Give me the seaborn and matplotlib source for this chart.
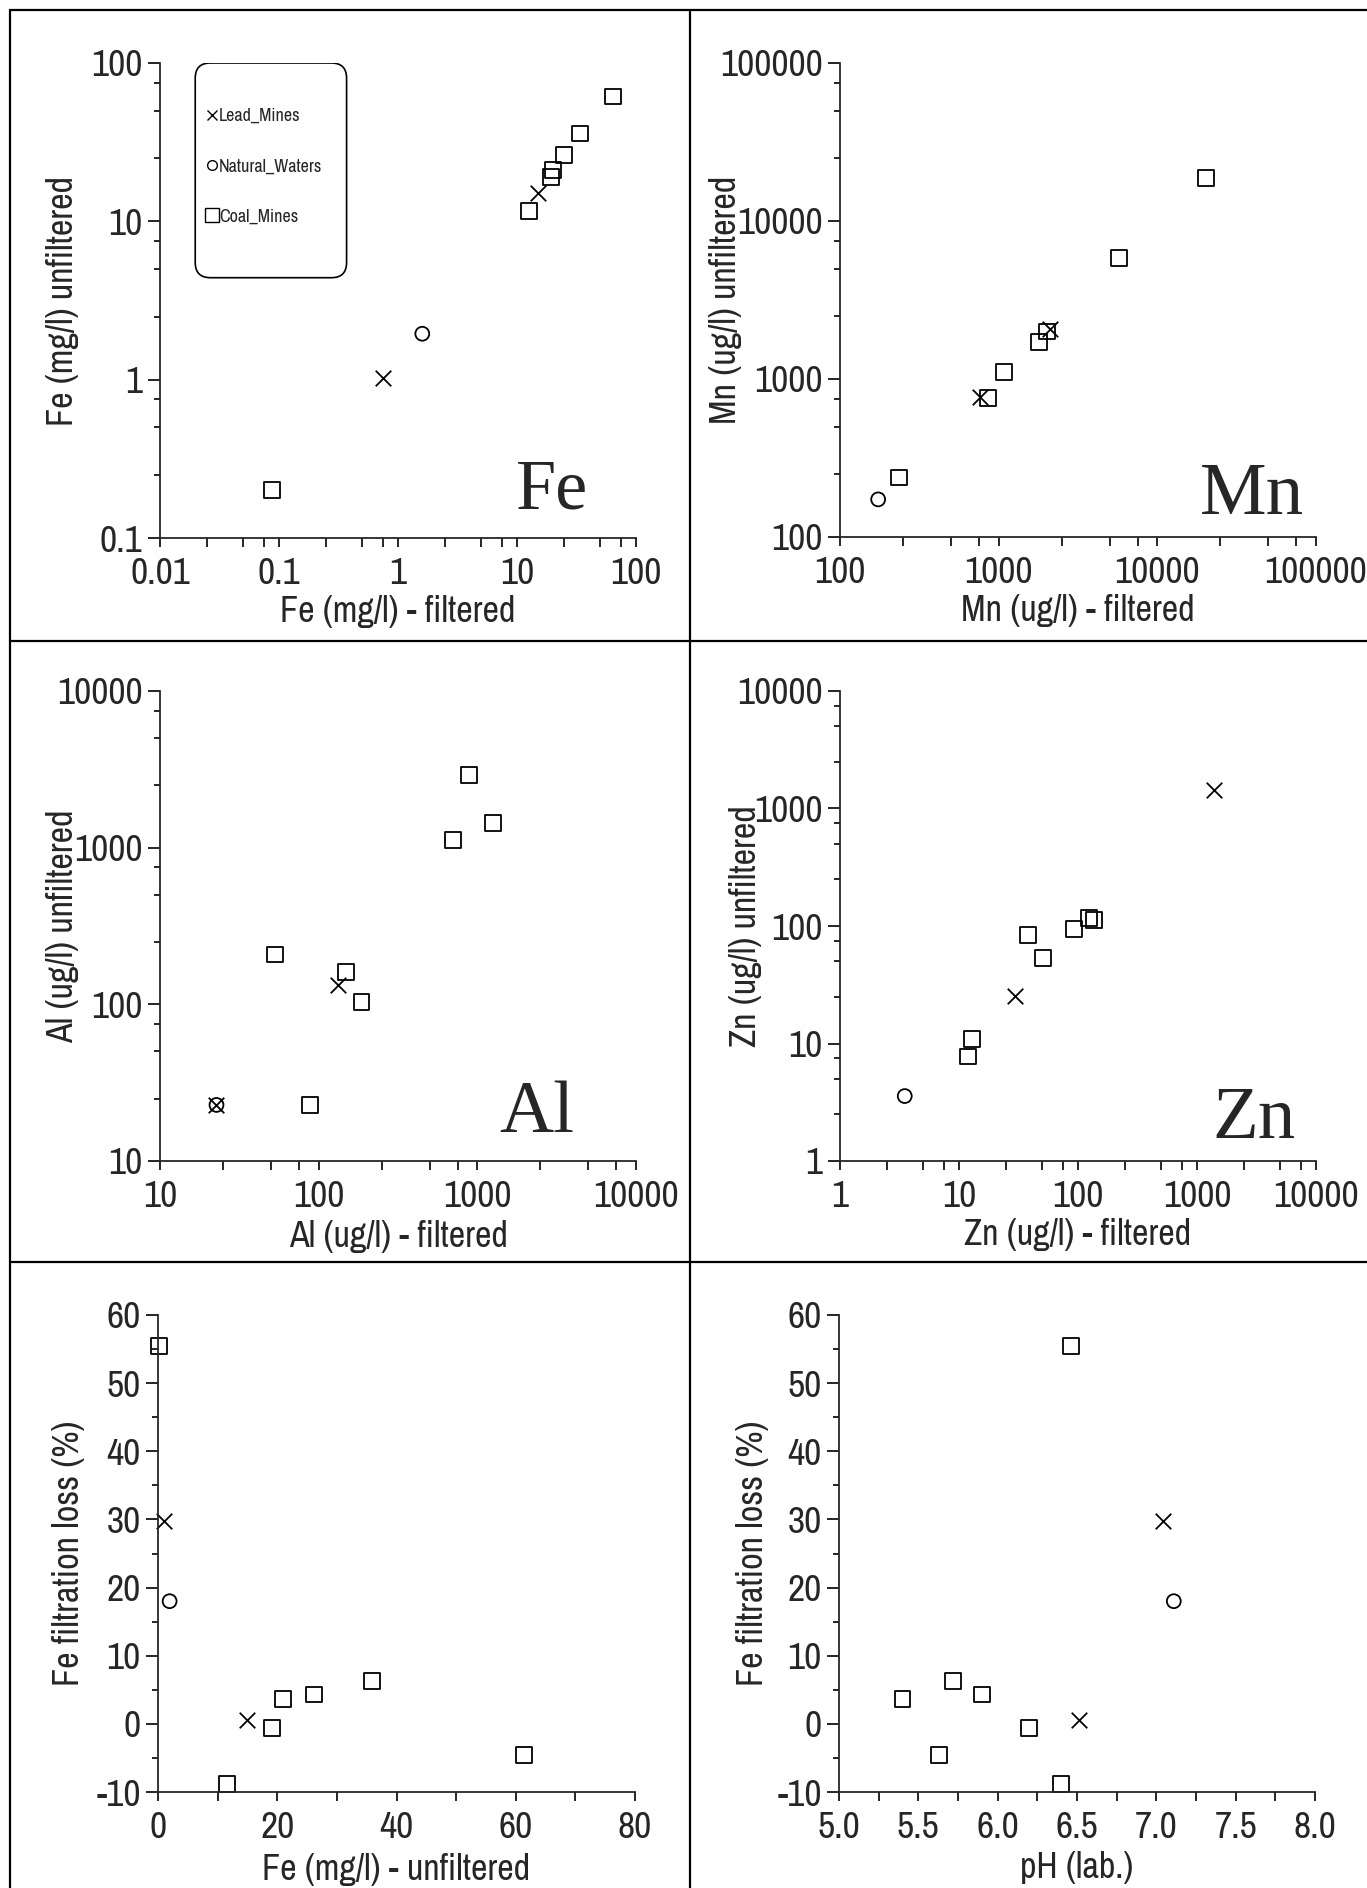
import matplotlib
matplotlib.use("Agg")
import matplotlib.pyplot as plt
import seaborn as sns
import pandas as pd
from matplotlib import ticker, font_manager
from matplotlib.lines import Line2D
from matplotlib.patches import FancyBboxPatch


# sampling points: 2 lead mines, 1 natural water, 7 coal mines
site_type = ["Lead_Mines"] * 2 + ["Natural_Waters"] + ["Coal_Mines"] * 7

fe_filtered = [0.75, 15.1, 1.6, 0.087, 12.6, 19.2, 20.2, 25.0, 33.6, 64.0]
fe_unfiltered = [1.03, 15.0, 1.95, 0.2, 11.6, 19.1, 21.0, 26.1, 35.9, 61.4]

mn_filtered = [764, 2115, 174, 234, 855, 1084, 1803, 2023, 5740, 20200]
mn_unfiltered = [768, 2084, 173, 238, 760, 1104, 1714, 2000, 5830, 18800]

al_filtered = [22.7, 132, 22.7, 53.3, 87.9, 148, 186, 702, 887, 1259]
al_unfiltered = [22.8, 133, 22.8, 208, 22.8, 161, 103, 1122, 2911, 1435]

zn_filtered = [29.7, 1397, 3.5, 11.9, 12.9, 38.3, 51, 93.3, 124, 135.6]
zn_unfiltered = [25.4, 1430, 3.57, 7.75, 10.9, 83.5, 53.3, 94.2, 117, 113]

fe_loss = [29.8, 0.6, 18.0, 55.5, -8.8, -0.6, 3.7, 4.3, 6.3, -4.6]
ph_lab = [7.04, 6.51, 7.11, 6.46, 6.40, 6.20, 5.40, 5.90, 5.72, 5.63]

groups = ["Lead_Mines", "Natural_Waters", "Coal_Mines"]
group_marker = {"Lead_Mines": "x", "Natural_Waters": "o", "Coal_Mines": "s"}
group_size = {"Lead_Mines": 125, "Natural_Waters": 100, "Coal_Mines": 130}


sns.set_style("ticks")
# narrow sans (like Helvetica Narrow) if there is one, else a plain one
names = {f.name for f in font_manager.fontManager.ttflist}
sans = "Liberation Sans"
for cand in ["Archivo Narrow", "Liberation Sans Narrow"]:
    if cand in names:
        sans = cand
        break
plt.rcParams["font.family"] = [sans, "DejaVu Sans"]
plt.rcParams["axes.unicode_minus"] = False

W, H = 1367, 1888
fig = plt.figure(figsize=(W / 100, H / 100), dpi=100)
fig.patch.set_facecolor("white")


def px_axes(x0, y0, x1, y1):
    return fig.add_axes([x0 / W, 1 - y1 / H, (x1 - x0) / W, (y1 - y0) / H])


def fig_line(x0, y0, x1, y1):
    fig.add_artist(Line2D([x0 / W, x1 / W], [1 - y0 / H, 1 - y1 / H],
                          transform=fig.transFigure, color="black", lw=1.6))


def draw_points(ax, x, y):
    df = pd.DataFrame({"x": x, "y": y, "site": site_type})
    for g in groups:
        sub = df[df.site == g]
        if g == "Lead_Mines":
            sns.scatterplot(data=sub, x="x", y="y", marker="x", s=group_size[g],
                            color="black", linewidth=1.3, ax=ax, clip_on=False)
        else:
            sns.scatterplot(data=sub, x="x", y="y", marker=group_marker[g],
                            s=group_size[g], facecolor="none", edgecolor="black",
                            linewidth=1.3, ax=ax, clip_on=False)


def style_axes(ax, xlabel, ylabel, ylab_x, xlab_y):
    sns.despine(ax=ax)
    for side in ["left", "bottom"]:
        ax.spines[side].set_linewidth(1.3)
    ax.set_xlabel(xlabel, fontsize=26)
    ax.set_ylabel(ylabel, fontsize=26)
    ax.yaxis.set_label_coords(ylab_x, 0.5)
    ax.xaxis.set_label_coords(0.5, xlab_y)
    ax.tick_params(axis="both", which="both", direction="out", width=1.2,
                   labelsize=27, color="black")
    ax.tick_params(axis="y", which="major", length=8.5, pad=4)
    ax.tick_params(axis="y", which="minor", length=4.5)
    ax.tick_params(axis="x", which="major", length=6.5, pad=7)
    ax.tick_params(axis="x", which="minor", length=6.5)
    ax.set_facecolor("white")


def log_axes(ax, xlim, ylim):
    ax.set_xscale("log")
    ax.set_yscale("log")
    ax.set_xlim(*xlim)
    ax.set_ylim(*ylim)
    for axis in [ax.xaxis, ax.yaxis]:
        axis.set_major_locator(ticker.LogLocator(base=10, subs=(1.0,), numticks=12))
        axis.set_minor_locator(ticker.LogLocator(base=10, subs=(2.5, 5.0, 7.5), numticks=12))
        axis.set_major_formatter(ticker.FuncFormatter(lambda v, p: f"{v:g}"))
        axis.set_minor_formatter(ticker.NullFormatter())


def element_tag(ax, text, x, y, size):
    ax.text(x, y, text, transform=ax.transAxes, ha="right", va="baseline",
            fontsize=size, family="Liberation Serif")


# Fe filtered vs unfiltered
ax1 = px_axes(160, 63, 636, 538)
draw_points(ax1, fe_filtered, fe_unfiltered)
log_axes(ax1, (0.01, 100), (0.1, 100))
style_axes(ax1, "Fe (mg/l) - filtered", "Fe (mg/l) unfiltered", -0.171, -0.12)
element_tag(ax1, "Fe", 0.90, 0.063, 52)

ax1.add_patch(FancyBboxPatch((0.074, 0.548), 0.318, 0.452,
                             boxstyle="round,pad=0,rounding_size=0.032",
                             transform=ax1.transAxes, facecolor="white",
                             edgecolor="black", lw=1.2, zorder=3))
handles = [
    Line2D([], [], ls="none", marker="x", color="black", markersize=7, mew=1.0),
    Line2D([], [], ls="none", marker="o", mfc="none", mec="black", markersize=7, mew=1.0),
    Line2D([], [], ls="none", marker="s", mfc="none", mec="black", markersize=10, mew=1.0),
]
leg = ax1.legend(handles, groups, loc="upper left", bbox_to_anchor=(0.095, 0.905),
                 frameon=False, fontsize=13, handlelength=0.7, handletextpad=0.05,
                 labelspacing=1.9, borderpad=0, borderaxespad=0)
leg.set_zorder(4)

# Mn
ax2 = px_axes(840, 63, 1316, 537)
draw_points(ax2, mn_filtered, mn_unfiltered)
log_axes(ax2, (100, 100000), (100, 100000))
style_axes(ax2, "Mn (ug/l) - filtered", "Mn (ug/l) unfiltered", -0.205, -0.12)
element_tag(ax2, "Mn", 0.975, 0.049, 54)

# Al
ax3 = px_axes(160, 691, 636, 1161)
draw_points(ax3, al_filtered, al_unfiltered)
log_axes(ax3, (10, 10000), (10, 10000))
style_axes(ax3, "Al (ug/l) - filtered", "Al (ug/l) unfiltered", -0.171, -0.126)
element_tag(ax3, "Al", 0.87, 0.062, 54)

# Zn
ax4 = px_axes(840, 691, 1316, 1161)
draw_points(ax4, zn_filtered, zn_unfiltered)
log_axes(ax4, (1, 10000), (1, 10000))
style_axes(ax4, "Zn (ug/l) - filtered", "Zn (ug/l) unfiltered", -0.163, -0.121)
element_tag(ax4, "Zn", 0.958, 0.049, 54)

# Fe filtration loss vs unfiltered Fe
ax5 = px_axes(158, 1315, 635, 1792)
draw_points(ax5, fe_unfiltered, fe_loss)
ax5.set_xlim(0, 80)
ax5.set_ylim(-10, 60)
ax5.xaxis.set_major_locator(ticker.MultipleLocator(20))
ax5.xaxis.set_minor_locator(ticker.MultipleLocator(10))
ax5.yaxis.set_major_locator(ticker.MultipleLocator(10))
ax5.yaxis.set_minor_locator(ticker.MultipleLocator(5))
style_axes(ax5, "Fe (mg/l) - unfiltered", "Fe filtration loss (%)", -0.152, -0.128)

# Fe filtration loss vs pH
ax6 = px_axes(839, 1315, 1315, 1792)
draw_points(ax6, ph_lab, fe_loss)
ax6.set_xlim(5.0, 8.0)
ax6.set_ylim(-10, 60)
ax6.xaxis.set_major_locator(ticker.MultipleLocator(0.5))
ax6.xaxis.set_minor_locator(ticker.MultipleLocator(0.25))
ax6.xaxis.set_major_formatter(ticker.FormatStrFormatter("%.1f"))
ax6.yaxis.set_major_locator(ticker.MultipleLocator(10))
ax6.yaxis.set_minor_locator(ticker.MultipleLocator(5))
style_axes(ax6, "pH (lab.)", "Fe filtration loss (%)", -0.148, -0.124)

# panel frame lines
fig_line(10, 10, W, 10)
fig_line(10, 10, 10, H)
fig_line(690, 10, 690, H)
fig_line(10, 641, W, 641)
fig_line(10, 1262, W, 1262)

fig.savefig("out.png", dpi=100, facecolor="white")
